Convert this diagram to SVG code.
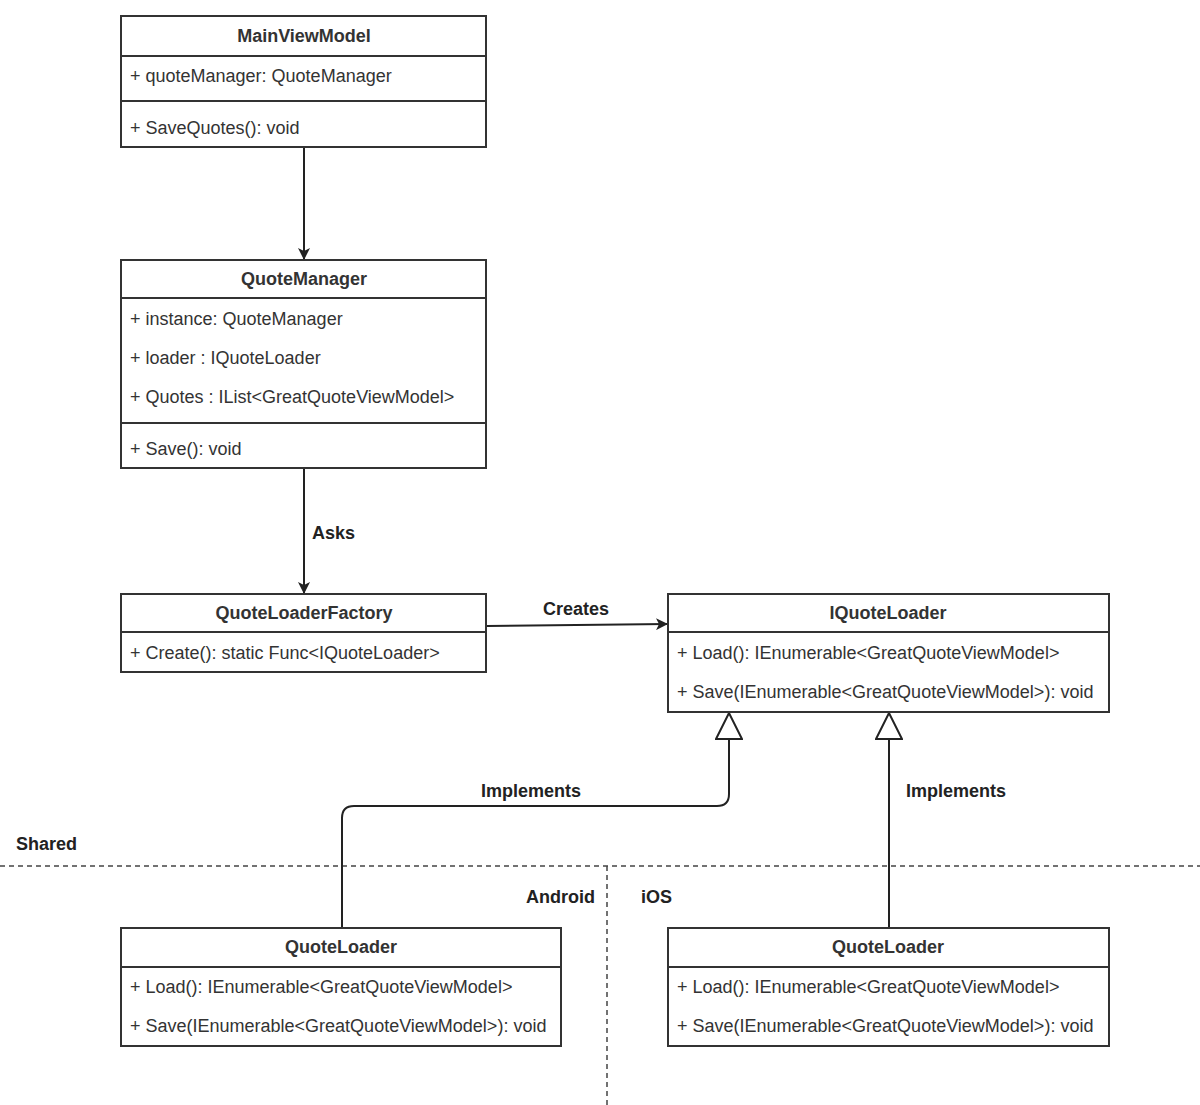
<svg xmlns="http://www.w3.org/2000/svg" width="1200" height="1105" viewBox="0 0 1200 1105">
<style>
.box{fill:#fff;stroke:#333;stroke-width:2}
.div{stroke:#333;stroke-width:2}
.t{font-family:"Liberation Sans",Arial,sans-serif;font-size:18px;fill:#333}
.h{font-family:"Liberation Sans",Arial,sans-serif;font-size:18px;font-weight:bold;fill:#333;text-anchor:middle}
.lbl{font-family:"Liberation Sans",Arial,sans-serif;font-size:18px;font-weight:bold;fill:#222}
.edge{fill:none;stroke:#222;stroke-width:2}
.dash{fill:none;stroke:#444;stroke-width:1.5;stroke-dasharray:5 4}
</style>
<defs>
<marker id="arr" viewBox="0 0 12 12" refX="11" refY="6" markerWidth="12" markerHeight="12" markerUnits="userSpaceOnUse" orient="auto">
<path d="M0,0 L12,6 L0,12 L3,6 Z" fill="#222"/>
</marker>
<marker id="tri" viewBox="0 0 28 28" refX="27" refY="14" markerWidth="28" markerHeight="28" markerUnits="userSpaceOnUse" orient="auto">
<path d="M1,1 L27,14 L1,27 Z" fill="#fff" stroke="#222" stroke-width="2"/>
</marker>
</defs>
<rect width="1200" height="1105" fill="#fff"/>

<g id="swimlanes">
<line class="dash" x1="0" y1="866" x2="1200" y2="866"/>
<line class="dash" x1="607" y1="866" x2="607" y2="1105"/>
<text class="lbl" x="16" y="850">Shared</text>
<text class="lbl" x="595" y="903" text-anchor="end">Android</text>
<text class="lbl" x="641" y="903">iOS</text>
</g>

<g id="connectors">
<line class="edge" x1="304" y1="148" x2="304" y2="259" marker-end="url(#arr)"/>
<line class="edge" x1="304" y1="469" x2="304" y2="593" marker-end="url(#arr)"/>
<text class="lbl" x="312" y="539">Asks</text>
<line class="edge" x1="487" y1="626" x2="667" y2="624" marker-end="url(#arr)"/>
<text class="lbl" x="576" y="615" text-anchor="middle">Creates</text>
<path class="edge" d="M342,928 L342,818 Q342,806 354,806 L717,806 Q729,806 729,794 L729,713" marker-end="url(#tri)"/>
<text class="lbl" x="531" y="797" text-anchor="middle">Implements</text>
<line class="edge" x1="889" y1="928" x2="889" y2="713" marker-end="url(#tri)"/>
<text class="lbl" x="956" y="797" text-anchor="middle">Implements</text>
</g>

<g id="MainViewModel">
<rect class="box" x="121" y="16" width="365" height="131"/>
<line class="div" x1="121" y1="56" x2="486" y2="56"/>
<line class="div" x1="121" y1="101" x2="486" y2="101"/>
<text class="h" x="304" y="42">MainViewModel</text>
<text class="t" x="130" y="82">+ quoteManager: QuoteManager</text>
<text class="t" x="130" y="134">+ SaveQuotes(): void</text>
</g>

<g id="QuoteManager">
<rect class="box" x="121" y="260" width="365" height="208"/>
<line class="div" x1="121" y1="298" x2="486" y2="298"/>
<line class="div" x1="121" y1="423" x2="486" y2="423"/>
<text class="h" x="304" y="285">QuoteManager</text>
<text class="t" x="130" y="325">+ instance: QuoteManager</text>
<text class="t" x="130" y="364">+ loader : IQuoteLoader</text>
<text class="t" x="130" y="403">+ Quotes : IList&lt;GreatQuoteViewModel&gt;</text>
<text class="t" x="130" y="455">+ Save(): void</text>
</g>

<g id="QuoteLoaderFactory">
<rect class="box" x="121" y="594" width="365" height="78"/>
<line class="div" x1="121" y1="632" x2="486" y2="632"/>
<text class="h" x="304" y="619">QuoteLoaderFactory</text>
<text class="t" x="130" y="659">+ Create(): static Func&lt;IQuoteLoader&gt;</text>
</g>

<g id="IQuoteLoader">
<rect class="box" x="668" y="594" width="441" height="118"/>
<line class="div" x1="668" y1="632" x2="1109" y2="632"/>
<text class="h" x="888" y="619">IQuoteLoader</text>
<text class="t" x="677" y="659">+ Load(): IEnumerable&lt;GreatQuoteViewModel&gt;</text>
<text class="t" x="677" y="698">+ Save(IEnumerable&lt;GreatQuoteViewModel&gt;): void</text>
</g>

<g id="QuoteLoaderAndroid">
<rect class="box" x="121" y="928" width="440" height="118"/>
<line class="div" x1="121" y1="967" x2="561" y2="967"/>
<text class="h" x="341" y="953">QuoteLoader</text>
<text class="t" x="130" y="993">+ Load(): IEnumerable&lt;GreatQuoteViewModel&gt;</text>
<text class="t" x="130" y="1032">+ Save(IEnumerable&lt;GreatQuoteViewModel&gt;): void</text>
</g>

<g id="QuoteLoaderIOS">
<rect class="box" x="668" y="928" width="441" height="118"/>
<line class="div" x1="668" y1="967" x2="1109" y2="967"/>
<text class="h" x="888" y="953">QuoteLoader</text>
<text class="t" x="677" y="993">+ Load(): IEnumerable&lt;GreatQuoteViewModel&gt;</text>
<text class="t" x="677" y="1032">+ Save(IEnumerable&lt;GreatQuoteViewModel&gt;): void</text>
</g>
</svg>
